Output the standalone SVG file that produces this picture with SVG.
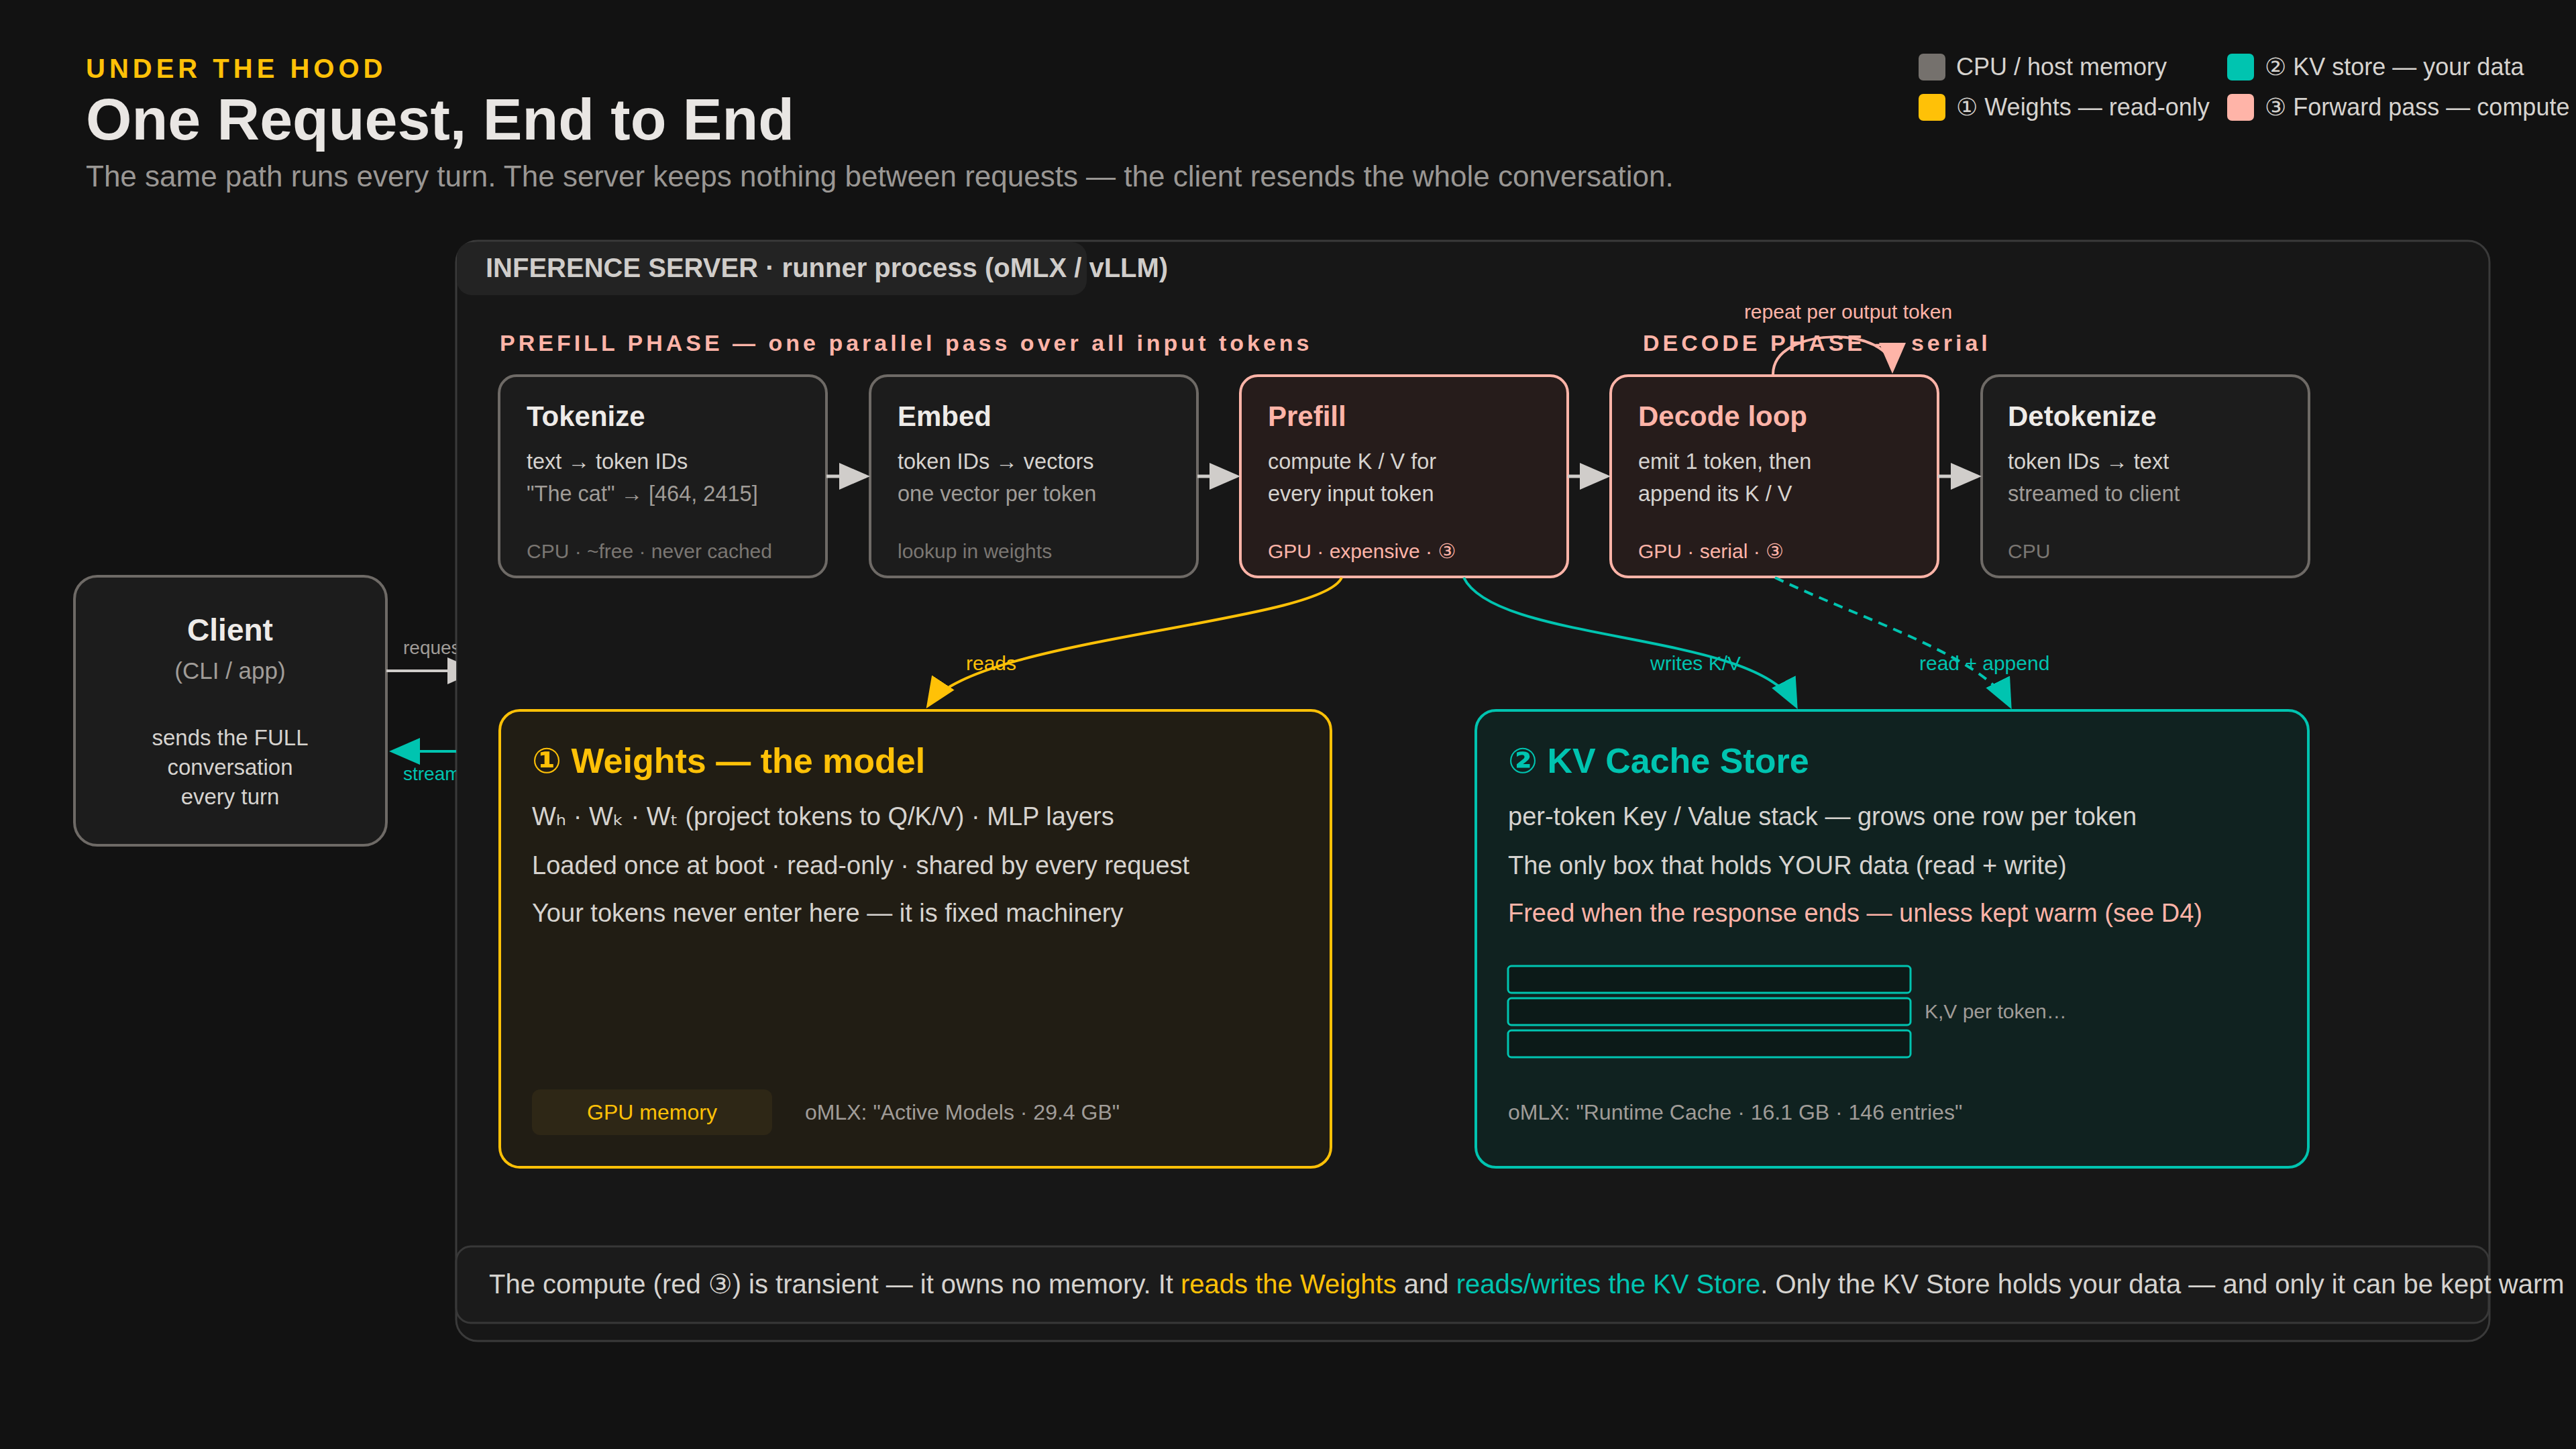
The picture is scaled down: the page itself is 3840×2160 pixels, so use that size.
<svg xmlns="http://www.w3.org/2000/svg" width="3840" height="2160" viewBox="0 0 3840 2160">
  <defs>
    <style>
      text { font-family: "Liberation Sans", Arial, "DejaVu Sans", sans-serif; }
      .eyebrow { font-size: 40px; font-weight: 700; letter-spacing: 6px; fill: #FFC107; }
      .h1 { font-size: 88px; font-weight: 700; fill: #E9E6E3; }
      .sub { font-size: 44px; fill: #9A9794; }
      .legend { font-size: 36px; fill: #D6D3CF; }
      .phase { font-size: 34px; font-weight: 700; letter-spacing: 5px; fill: #FFB4A8; }
      .server-title { font-size: 40px; font-weight: 700; fill: #D0CDCA; }
      .n-title { font-size: 42px; font-weight: 700; }
      .n-body { font-size: 32.5px; }
      .n-foot { font-size: 30px; }
      .big-title { font-size: 52px; font-weight: 700; }
      .big-body { font-size: 38px; }
      .small { font-size: 32px; }
      .lbl { font-size: 30px; }
      .c-white { fill: #EEEBE8; }
      .c-light { fill: #D6D3CF; }
      .c-gray { fill: #A09C98; }
      .c-dim { fill: #7A7672; }
      .c-yellow { fill: #FFC107; }
      .c-teal { fill: #00C4B0; }
      .c-salmon { fill: #FFB4A8; }
      .node-cpu rect { fill: #1C1C1C; stroke: #6E6A66; stroke-width: 4; }
      .node-gpu rect { fill: #261C1B; stroke: #FFB4A8; stroke-width: 4; }
      .flow { fill: none; stroke: #D0CDCA; stroke-width: 5; marker-end: url(#ah-gray); }
      .conn { fill: none; stroke-width: 4; }
    </style>
    <marker id="ah-gray" markerUnits="userSpaceOnUse" markerWidth="46" markerHeight="40" refX="40" refY="20" orient="auto">
      <path d="M0,0 L46,20 L0,40 Z" fill="#D0CDCA"/>
    </marker>
    <marker id="ah-teal" markerUnits="userSpaceOnUse" markerWidth="46" markerHeight="40" refX="40" refY="20" orient="auto">
      <path d="M0,0 L46,20 L0,40 Z" fill="#00C4B0"/>
    </marker>
    <marker id="ah-yellow" markerUnits="userSpaceOnUse" markerWidth="46" markerHeight="40" refX="40" refY="20" orient="auto">
      <path d="M0,0 L46,20 L0,40 Z" fill="#FFC107"/>
    </marker>
    <marker id="ah-salmon" markerUnits="userSpaceOnUse" markerWidth="46" markerHeight="40" refX="40" refY="20" orient="auto">
      <path d="M0,0 L46,20 L0,40 Z" fill="#FFB4A8"/>
    </marker>
    <clipPath id="clip-client">
      <rect x="0" y="0" width="680" height="2160"/>
    </clipPath>
  </defs>

  <rect x="0" y="0" width="3840" height="2160" fill="#121212"/>

  <g id="header">
    <text x="128" y="116" class="eyebrow">UNDER THE HOOD</text>
    <text x="128" y="208" class="h1">One Request, End to End</text>
    <text x="128" y="278" class="sub">The same path runs every turn. The server keeps nothing between requests — the client resends the whole conversation.</text>
  </g>

  <g id="legend">
    <rect x="2860" y="80" width="40" height="40" rx="7" fill="#75716D"/>
    <text x="2916" y="112" class="legend">CPU / host memory</text>
    <rect x="3320" y="80" width="40" height="40" rx="7" fill="#00C4B0"/>
    <text x="3376" y="112" class="legend">② KV store — your data</text>
    <rect x="2860" y="140" width="40" height="40" rx="7" fill="#FFC107"/>
    <text x="2916" y="172" class="legend">① Weights — read-only</text>
    <rect x="3320" y="140" width="40" height="40" rx="7" fill="#FFB4A8"/>
    <text x="3376" y="172" class="legend">③ Forward pass — compute</text>
  </g>

  <g id="client" class="node-cpu">
    <rect x="111" y="859" width="465" height="401" rx="34"/>
    <text x="343" y="955" text-anchor="middle" class="c-white" font-size="46" font-weight="700">Client</text>
    <text x="343" y="1012" text-anchor="middle" class="c-gray" font-size="35">(CLI / app)</text>
    <text x="343" y="1111" text-anchor="middle" class="c-light" font-size="33">sends the FULL</text>
    <text x="343" y="1155" text-anchor="middle" class="c-light" font-size="33">conversation</text>
    <text x="343" y="1199" text-anchor="middle" class="c-light" font-size="33">every turn</text>
  </g>

  <g id="inference-server">
    <rect x="680" y="359" width="3031" height="1640" rx="32" fill="#171717" stroke="#3A3A3A" stroke-width="3"/>
    <rect x="681" y="361" width="939" height="79" rx="22" fill="#232323"/>
    <text x="724" y="413" class="server-title">INFERENCE SERVER · runner process (oMLX / vLLM)</text>
    <text x="745" y="523" class="phase">PREFILL PHASE — one parallel pass over all input tokens</text>
    <text x="2449" y="523" class="phase">DECODE PHASE — serial</text>
  </g>

  <g id="tokenize" class="node-cpu">
    <rect x="744" y="560" width="488" height="300" rx="26"/>
    <text x="785" y="635" class="n-title c-white">Tokenize</text>
    <text x="785" y="699" class="n-body c-light">text → token IDs</text>
    <text x="785" y="747" class="n-body c-gray">"The cat" → [464, 2415]</text>
    <text x="785" y="832" class="n-foot c-dim">CPU · ~free · never cached</text>
  </g>

  <g id="embed" class="node-cpu">
    <rect x="1297" y="560" width="488" height="300" rx="26"/>
    <text x="1338" y="635" class="n-title c-white">Embed</text>
    <text x="1338" y="699" class="n-body c-light">token IDs → vectors</text>
    <text x="1338" y="747" class="n-body c-gray">one vector per token</text>
    <text x="1338" y="832" class="n-foot c-dim">lookup in weights</text>
  </g>

  <g id="prefill" class="node-gpu">
    <rect x="1849" y="560" width="488" height="300" rx="26"/>
    <text x="1890" y="635" class="n-title c-salmon">Prefill</text>
    <text x="1890" y="699" class="n-body c-light">compute K / V for</text>
    <text x="1890" y="747" class="n-body c-light">every input token</text>
    <text x="1890" y="832" class="n-foot c-salmon">GPU · expensive · ③</text>
  </g>

  <g id="decode-loop" class="node-gpu">
    <rect x="2401" y="560" width="488" height="300" rx="26"/>
    <text x="2442" y="635" class="n-title c-salmon">Decode loop</text>
    <text x="2442" y="699" class="n-body c-light">emit 1 token, then</text>
    <text x="2442" y="747" class="n-body c-light">append its K / V</text>
    <text x="2442" y="832" class="n-foot c-salmon">GPU · serial · ③</text>
  </g>

  <g id="detokenize" class="node-cpu">
    <rect x="2954" y="560" width="488" height="300" rx="26"/>
    <text x="2993" y="635" class="n-title c-white">Detokenize</text>
    <text x="2993" y="699" class="n-body c-light">token IDs → text</text>
    <text x="2993" y="747" class="n-body c-gray">streamed to client</text>
    <text x="2993" y="832" class="n-foot c-dim">CPU</text>
  </g>

  <g id="weights">
    <rect x="745" y="1059" width="1239" height="681" rx="30" fill="#211D14" stroke="#FFC107" stroke-width="4"/>
    <text x="793" y="1152" class="big-title c-yellow">① Weights — the model</text>
    <text x="793" y="1230" class="big-body c-light" font-size="37.4">Wₕ · Wₖ · Wₜ (project tokens to Q/K/V) · MLP layers</text>
    <text x="793" y="1303" class="big-body c-light">Loaded once at boot · read-only · shared by every request</text>
    <text x="793" y="1374" class="big-body c-light">Your tokens never enter here — it is fixed machinery</text>
    <rect x="793" y="1624" width="358" height="68" rx="12" fill="#2E2716"/>
    <text x="972" y="1669" text-anchor="middle" class="small c-yellow">GPU memory</text>
    <text x="1200" y="1669" class="small c-gray">oMLX: "Active Models · 29.4 GB"</text>
  </g>

  <g id="kv-cache-store">
    <rect x="2200" y="1059" width="1241" height="681" rx="30" fill="#102220" stroke="#00C4B0" stroke-width="4"/>
    <text x="2248" y="1152" class="big-title c-teal">② KV Cache Store</text>
    <text x="2248" y="1230" class="big-body c-light">per-token Key / Value stack — grows one row per token</text>
    <text x="2248" y="1303" class="big-body c-light">The only box that holds YOUR data (read + write)</text>
    <text x="2248" y="1374" class="big-body c-salmon">Freed when the response ends — unless kept warm (see D4)</text>
    <rect x="2248" y="1440" width="600" height="40" rx="5" fill="#0C1A18" stroke="#00C4B0" stroke-width="3"/>
    <rect x="2248" y="1488" width="600" height="40" rx="5" fill="#0C1A18" stroke="#00C4B0" stroke-width="3"/>
    <rect x="2248" y="1536" width="600" height="40" rx="5" fill="#0C1A18" stroke="#00C4B0" stroke-width="3"/>
    <text x="2869" y="1518" class="lbl c-gray">K,V per token…</text>
    <text x="2248" y="1669" class="small c-gray">oMLX: "Runtime Cache · 16.1 GB · 146 entries"</text>
  </g>

  <g id="caption">
    <rect x="680" y="1858" width="3030" height="114" rx="22" fill="#1B1B1B" stroke="#383838" stroke-width="3"/>
    <text x="729" y="1928" font-size="40" class="c-light">The compute (red ③) is transient — it owns no memory. It <tspan class="c-yellow">reads the Weights</tspan> and <tspan class="c-teal">reads/writes the KV Store</tspan>. Only the KV Store holds your data — and only it can be kept warm</text>
  </g>

  <g id="connectors">
    <g clip-path="url(#clip-client)">
      <path d="M576,1000 L707,1000" class="conn" stroke="#D0CDCA" marker-end="url(#ah-gray)"/>
      <text x="601" y="975" font-size="28" class="c-gray">request</text>
      <path d="M680,1120 L586,1120" class="conn" stroke="#00C4B0" stroke-width="5" marker-end="url(#ah-teal)"/>
      <text x="601" y="1163" font-size="28" class="c-teal">stream</text>
    </g>
    <path d="M1232,710 L1291,710" class="flow"/>
    <path d="M1785,710 L1843,710" class="flow"/>
    <path d="M2337,710 L2395,710" class="flow"/>
    <path d="M2889,710 L2948,710" class="flow"/>
    <path d="M2643,558 C2643,485 2821,485 2821,551" class="conn" stroke="#FFB4A8" marker-end="url(#ah-salmon)"/>
    <text x="2755" y="475" text-anchor="middle" class="lbl c-salmon">repeat per output token</text>
    <path d="M2000,861 C1970,930 1450,950 1384,1051" class="conn" stroke="#FFC107" marker-end="url(#ah-yellow)"/>
    <text x="1440" y="999" class="lbl c-yellow">reads</text>
    <path d="M2182,861 C2230,960 2620,940 2677,1052" class="conn" stroke="#00C4B0" marker-end="url(#ah-teal)"/>
    <text x="2460" y="999" class="lbl c-teal">writes K/V</text>
    <path d="M2646,861 C2780,925 2960,980 2996,1052" class="conn" stroke="#00C4B0" stroke-dasharray="14 10" marker-end="url(#ah-teal)"/>
    <text x="2861" y="999" class="lbl c-teal">read + append</text>
  </g>
</svg>
